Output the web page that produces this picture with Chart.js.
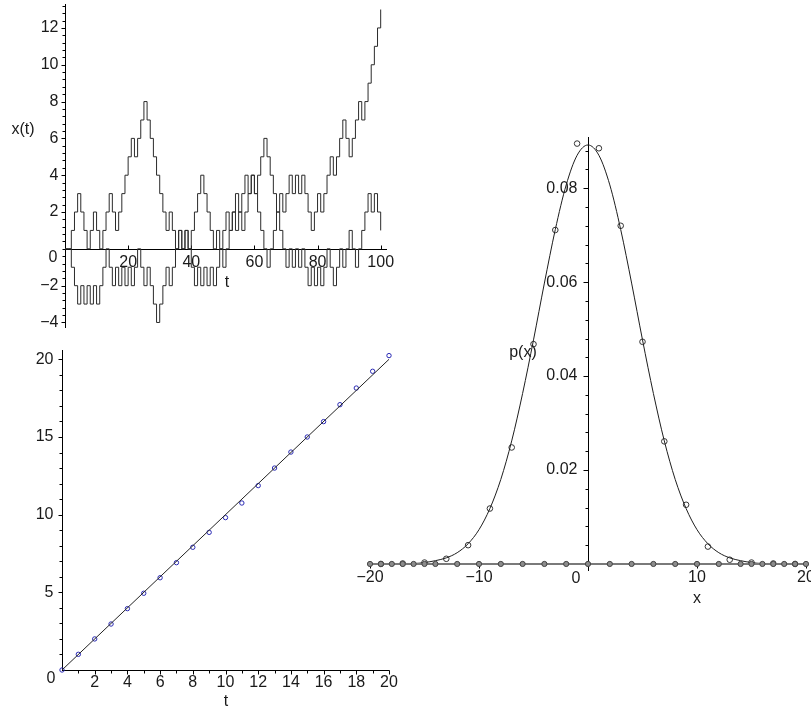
<!DOCTYPE html>
<html>
<head>
<meta charset="utf-8">
<script src="https://cdn.jsdelivr.net/npm/chart.js@4.4.0/dist/chart.umd.min.js"></script>
<style>
    html, body { margin: 0; padding: 0; background: #fff; }
    #wrap { position: relative; width: 811px; height: 711px; overflow: hidden; }
    canvas { position: absolute; left: 0; top: 0; }
</style>
</head>
<body>
<div id="wrap">
    <canvas id="walk-chart" width="811" height="711"></canvas>
    <canvas id="drift-chart" width="811" height="711"></canvas>
    <canvas id="dist-chart" width="811" height="711"></canvas>
</div>
<script>
// Random walks, x(t) for t = 0..100 (value held until the next step)
const walkA = [
    0, 0, 1, 2, 3, 2, 1, 0, 1, 2,
    1, 0, 1, 2, 3, 2, 1, 2, 3, 4,
    5, 6, 5, 6, 7, 8, 7, 6, 5, 4,
    3, 2, 1, 2, 1, 0, 1, 0, 1, 0,
    1, 2, 3, 4, 3, 2, 1, 0, 1, 0,
    -1, 0, 1, 2, 1, 2, 3, 4, 3, 4,
    3, 4, 5, 6, 5, 4, 3, 2, 3, 2,
    3, 4, 3, 4, 3, 4, 3, 2, 1, 2,
    3, 2, 3, 4, 5, 4, 5, 6, 7, 6,
    5, 6, 7, 8, 7, 8, 9, 10, 11, 12,
    13
];
const walkB = [
    0, 0, -1, -2, -3, -2, -3, -2, -3, -2,
    -3, -2, -1, 0, -1, -2, -1, -2, -1, -2,
    -1, -2, -1, 0, -1, -2, -1, -2, -3, -4,
    -3, -2, -1, -2, -1, 0, 1, 0, 1, 0,
    -1, -2, -1, -2, -1, -2, -1, -2, -1, 0,
    1, 2, 1, 2, 3, 2, 1, 2, 3, 4,
    3, 2, 1, 0, -1, 0, 1, 2, 1, 0,
    -1, 0, -1, 0, -1, 0, -1, -2, -1, -2,
    -1, -2, -1, 0, -1, -2, -1, 0, -1, 0,
    1, 0, -1, 0, 1, 2, 3, 2, 3, 2,
    1
];
const walkYTicks = [-4, -2, 2, 4, 6, 8, 10, 12];
const walkYLabels = ["\u22124", "\u22122", "2", "4", "6", "8", "10", "12"];
const walkXTicks = [20, 40, 60, 80, 100];
const walkXLabels = ["20", "40", "60", "80", "100"];

// Mean position against t, with the fitted line
const driftT = [0, 1, 2, 3, 4, 5, 6, 7, 8, 9, 10, 11, 12, 13, 14, 15, 16, 17, 18, 19, 20];
const driftMean = [0, 1.01, 2.0, 2.96, 3.95, 4.94, 5.94, 6.91, 7.9, 8.86, 9.81,
    10.75, 11.87, 13.0, 14.03, 15.0, 15.99, 17.08, 18.15, 19.23, 20.24];
const fitT = [0, 20];
const fitY = [0, 20];
const driftYTicks = [5, 10, 15, 20];
const driftYLabels = ["5", "10", "15", "20"];
const driftXTicks = [2, 4, 6, 8, 10, 12, 14, 16, 18, 20];
const driftXLabels = ["2", "4", "6", "8", "10", "12", "14", "16", "18", "20"];

// Distribution p(x): smooth curve, sampled points, and zero-level dots
const curveX = [-20, -19, -18, -17, -16, -15, -14, -13, -12, -11, -10, -9, -8, -7, -6, -5, -4, -3, -2, -1, 0,
    1, 2, 3, 4, 5, 6, 7, 8, 9, 10, 11, 12, 13, 14, 15, 16, 17, 18, 19, 20];
const curveP = [0, 0, 0, 0.0001, 0.0001, 0.0003, 0.0007, 0.0013, 0.0024, 0.0043, 0.0073,
    0.0118, 0.0180, 0.0262, 0.0363, 0.0477, 0.0598, 0.0712, 0.0807, 0.0870, 0.0892,
    0.0870, 0.0807, 0.0712, 0.0598, 0.0477, 0.0363, 0.0262, 0.0180, 0.0118, 0.0073,
    0.0043, 0.0024, 0.0013, 0.0007, 0.0003, 0.0001, 0.0001, 0, 0, 0];
const sampleX = [-19, -17, -15, -13, -11, -9, -7, -5, -3, -1, 1, 3, 5, 7, 9, 11, 13, 15, 17, 19];
const sampleP = [0, 0.0001, 0.0003, 0.0011, 0.0040, 0.0118, 0.0248, 0.0468, 0.0711, 0.0895,
    0.0885, 0.0720, 0.0473, 0.0261, 0.0126, 0.0037, 0.0009, 0.0003, 0.0001, 0];
const zeroX = [-20, -19, -18, -17, -16, -15, -14, -12, -10, -8, -6, -4, -2, 0,
    2, 4, 6, 8, 10, 12, 14, 15, 16, 17, 18, 19, 20];
const zeroY = [0, 0, 0, 0, 0, 0, 0, 0, 0, 0, 0, 0, 0, 0, 0, 0, 0, 0, 0, 0, 0, 0, 0, 0, 0, 0, 0];
const distYTicks = [0.02, 0.04, 0.06, 0.08];
const distYLabels = ["0.02", "0.04", "0.06", "0.08"];
const distXTicks = [-20, -10, 10, 20];
const distXLabels = ["\u221220", "\u221210", "10", "20"];

const FONT = '16px "Liberation Sans", Arial, sans-serif';
const INK = "#1a1a1a";

function steps(from, to, step) {
    const out = [];
    for (let v = from; v <= to + step / 1000; v += step) out.push(+v.toFixed(6));
    return out;
}

function points(xs, ys) {
    return xs.map((x, i) => ({ x: x, y: ys[i] }));
}

// Axes that cross at the origin, drawn from the chart's scales
function crossAxes(o) {
    return {
        id: "crossAxes",
        beforeDatasetsDraw(chart) {
            const { ctx, chartArea: a, scales } = chart;
            const px = (v) => scales.x.getPixelForValue(v);
            const py = (v) => scales.y.getPixelForValue(v);
            const ox = Math.round(px(0)) + 0.5;
            const oy = Math.round(py(0)) + 0.5;

            ctx.save();
            ctx.strokeStyle = "#000";
            ctx.lineWidth = 1;
            ctx.beginPath();
            ctx.moveTo(a.left, oy);
            ctx.lineTo(a.right, oy);
            ctx.moveTo(ox, a.top);
            ctx.lineTo(ox, a.bottom);

            o.yMinor.forEach((v) => {
                const p = Math.round(py(v)) + 0.5;
                ctx.moveTo(ox, p);
                ctx.lineTo(ox - o.yMinorLen, p);
            });
            o.yTicks.forEach((v) => {
                const p = Math.round(py(v)) + 0.5;
                ctx.moveTo(ox, p);
                ctx.lineTo(ox - o.yMajorLen, p);
            });
            o.xMinor.forEach((v) => {
                const p = Math.round(px(v)) + 0.5;
                ctx.moveTo(p, oy);
                ctx.lineTo(p, oy + o.xTickDir * o.xMinorLen);
            });
            o.xTicks.forEach((v) => {
                const p = Math.round(px(v)) + 0.5;
                ctx.moveTo(p, oy);
                ctx.lineTo(p, oy + o.xTickDir * o.xMajorLen);
            });
            ctx.stroke();

            ctx.fillStyle = INK;
            ctx.font = FONT;
            ctx.textBaseline = "middle";
            ctx.textAlign = "right";
            o.yTicks.forEach((v, i) => ctx.fillText(o.yLabels[i], ox - o.yGap, py(v)));
            ctx.fillText("0", ox + o.zeroDx, oy + o.zeroDy);
            ctx.textAlign = "center";
            o.xTicks.forEach((v, i) => ctx.fillText(o.xLabels[i], px(v), oy + o.xGap));
            o.titles.forEach((t) => ctx.fillText(t.text, t.x, t.y));
            ctx.restore();
        },
    };
}

function baseOptions(pad, xr, yr) {
    return {
        responsive: false,
        animation: false,
        events: [],
        layout: { padding: pad },
        plugins: { legend: { display: false }, tooltip: { enabled: false } },
        scales: {
            x: { type: "linear", display: false, min: xr[0], max: xr[1] },
            y: { type: "linear", display: false, min: yr[0], max: yr[1] },
        },
    };
}

// Top left: the random walks
new Chart(document.getElementById("walk-chart"), {
    type: "scatter",
    data: {
        datasets: [walkA, walkB].map((w) => ({
            data: w.map((v, t) => ({ x: t, y: v })),
            showLine: true,
            stepped: "before",
            borderColor: "#2b2b2b",
            borderWidth: 1,
            pointRadius: 0,
            clip: false,
        })),
    },
    options: baseOptions({ left: 65, right: 424, top: 4, bottom: 383 }, [0, 102], [-4.3, 13.3]),
    plugins: [crossAxes({
        yTicks: walkYTicks, yLabels: walkYLabels, yMinor: steps(-4, 13.2, 0.4),
        yMinorLen: 3, yMajorLen: 4, yGap: 7,
        xTicks: walkXTicks, xLabels: walkXLabels, xMinor: [],
        xTickDir: -1, xMinorLen: 2, xMajorLen: 4, xGap: 13,
        zeroDx: -8, zeroDy: 8,
        titles: [{ text: "x(t)", x: 23, y: 130 }, { text: "t", x: 227, y: 283 }],
    })],
});

// Bottom left: mean against t
new Chart(document.getElementById("drift-chart"), {
    type: "scatter",
    data: {
        datasets: [
            {
                data: points(fitT, fitY),
                showLine: true,
                borderColor: "#222",
                borderWidth: 1,
                pointRadius: 0,
                clip: false,
            },
            {
                data: points(driftT, driftMean),
                showLine: false,
                pointRadius: 2.2,
                pointBorderWidth: 1,
                pointBorderColor: "#2a2ab4",
                pointBackgroundColor: "rgba(255,255,255,0)",
                clip: false,
            },
        ],
    },
    options: baseOptions({ left: 62, right: 422, top: 350, bottom: 41 }, [0, 20], [0, 20.6]),
    plugins: [crossAxes({
        yTicks: driftYTicks, yLabels: driftYLabels, yMinor: steps(1, 20, 1),
        yMinorLen: 3, yMajorLen: 4, yGap: 9,
        xTicks: driftXTicks, xLabels: driftXLabels, xMinor: steps(1, 20, 1),
        xTickDir: 1, xMinorLen: 3, xMajorLen: 4, xGap: 12,
        zeroDx: -7, zeroDy: 8,
        titles: [{ text: "t", x: 226, y: 702 }],
    })],
});

// Right: distribution p(x)
new Chart(document.getElementById("dist-chart"), {
    type: "scatter",
    data: {
        datasets: [
            {
                data: points(zeroX, zeroY),
                showLine: true,
                borderColor: "#7a7a7a",
                borderWidth: 2,
                pointRadius: 2.6,
                pointBorderWidth: 1,
                pointBorderColor: "#444",
                pointBackgroundColor: "#8c8c8c",
                clip: false,
            },
            {
                data: points(curveX, curveP),
                showLine: true,
                cubicInterpolationMode: "monotone",
                borderColor: "#1e1e1e",
                borderWidth: 1,
                pointRadius: 0,
                clip: false,
            },
            {
                data: points(sampleX, sampleP),
                showLine: false,
                pointRadius: 2.8,
                pointBorderWidth: 1,
                pointBorderColor: "#333",
                pointBackgroundColor: "rgba(255,255,255,0)",
                clip: false,
            },
        ],
    },
    options: baseOptions({ left: 370, right: 4, top: 137, bottom: 140 }, [-20, 20], [-0.0015, 0.0909]),
    plugins: [crossAxes({
        yTicks: distYTicks, yLabels: distYLabels, yMinor: steps(0.004, 0.088, 0.004),
        yMinorLen: 3, yMajorLen: 5, yGap: 11,
        xTicks: distXTicks, xLabels: distXLabels, xMinor: [],
        xTickDir: 1, xMinorLen: 2, xMajorLen: 4, xGap: 13,
        zeroDx: -8, zeroDy: 14,
        titles: [{ text: "p(x)", x: 523, y: 353 }, { text: "x", x: 697, y: 599 }],
    })],
});
</script>
</body>
</html>
